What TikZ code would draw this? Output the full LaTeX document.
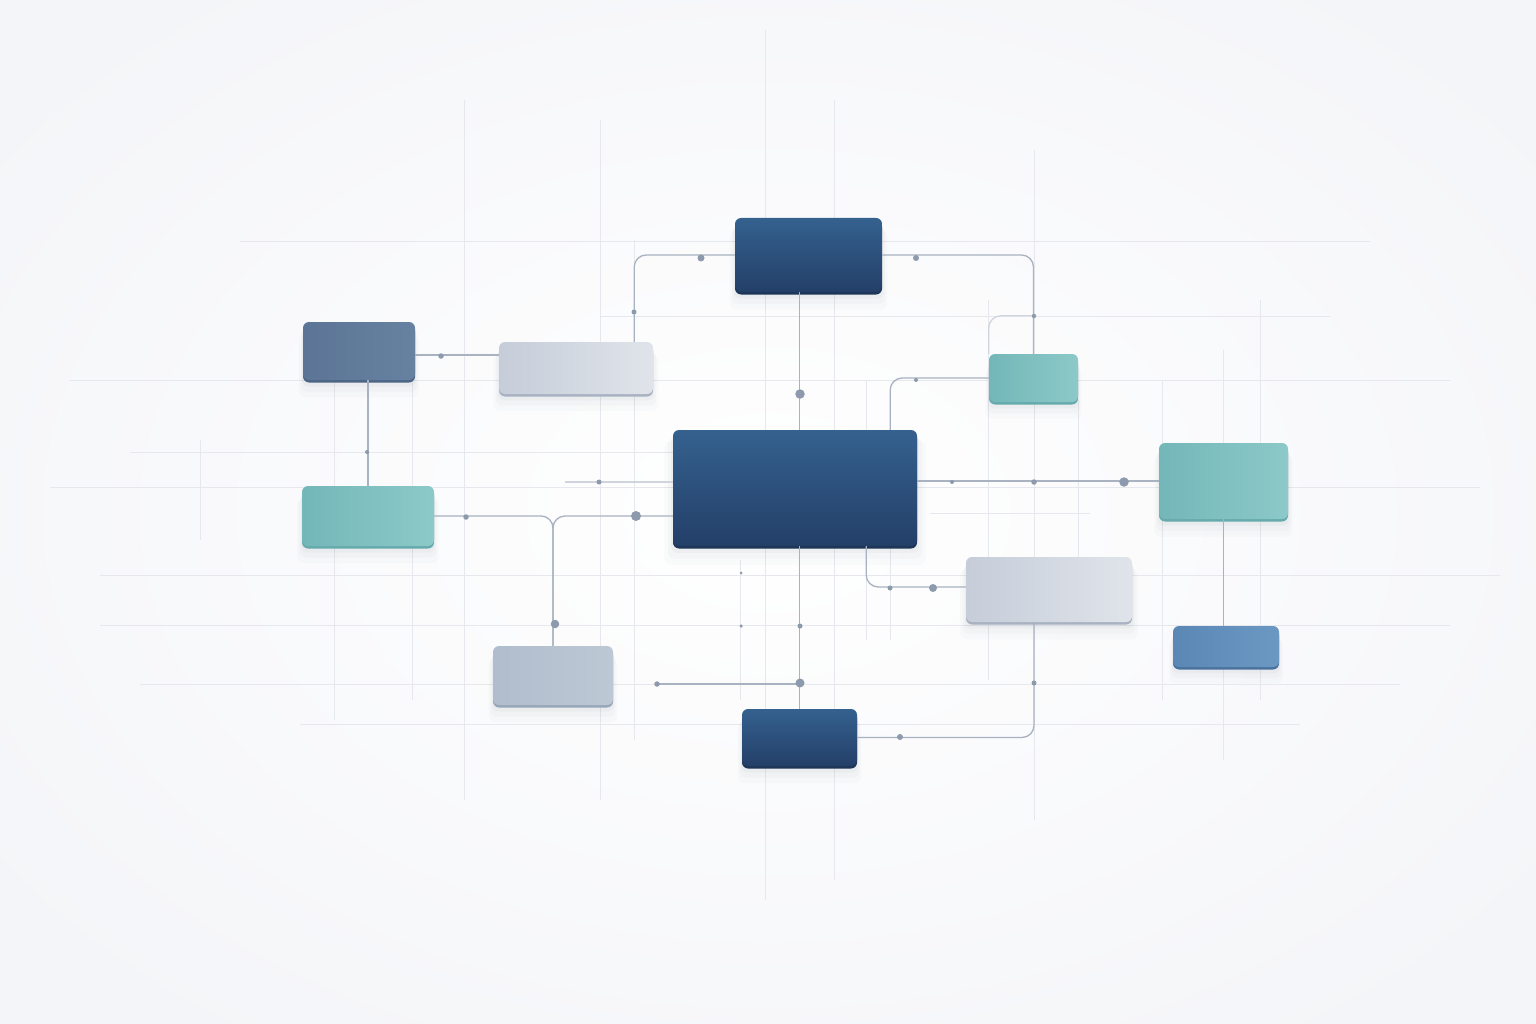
\documentclass[tikz,border=0pt]{standalone}
\usepackage{tikz}
\usetikzlibrary{positioning,shadows}

\definecolor{navytop}{HTML}{35618F}
\definecolor{navybot}{HTML}{233F68}
\definecolor{navyrim}{HTML}{1D3556}
\definecolor{slatetop}{HTML}{5C7596}
\definecolor{slatebot}{HTML}{6781A1}
\definecolor{slaterim}{HTML}{4D6585}
\definecolor{paletop}{HTML}{C6CDD9}
\definecolor{palebot}{HTML}{E0E4EA}
\definecolor{palerim}{HTML}{A8B2C1}
\definecolor{tealtop}{HTML}{74B7B9}
\definecolor{tealbot}{HTML}{8CC9C8}
\definecolor{tealrim}{HTML}{66AAAC}
\definecolor{greytop}{HTML}{B0BDCC}
\definecolor{greybot}{HTML}{BDC8D5}
\definecolor{greyrim}{HTML}{97A6B8}
\definecolor{bluetop}{HTML}{5B87B5}
\definecolor{bluebot}{HTML}{6B98C3}
\definecolor{bluerim}{HTML}{4A729E}
\definecolor{wirecol}{HTML}{A9B2C1}
\definecolor{dotcol}{HTML}{8D99AC}
\definecolor{gridcol}{HTML}{E6E8ED}
\definecolor{bgedge}{HTML}{F4F5F8}
\definecolor{shadowcol}{HTML}{2A3550}

\begin{document}
\begin{tikzpicture}[x=1pt,y=-1pt,
    block/.style={rectangle,rounded corners=6pt,inner sep=0pt,
      general shadow={fill=shadowcol,opacity=.018,shadow yshift=-14pt,shadow scale=1.07},
      general shadow={fill=shadowcol,opacity=.022,shadow yshift=-10pt,shadow scale=1.04},
      general shadow={fill=shadowcol,opacity=.03,shadow yshift=-6pt,shadow scale=1.015}},
    navybox/.style={block,top color=navytop,bottom color=navybot,
      general shadow={fill=navyrim,opacity=1,shadow yshift=-2.5pt}},
    slatebox/.style={block,left color=slatetop,right color=slatebot,
      general shadow={fill=slaterim,opacity=1,shadow yshift=-2.5pt}},
    palebox/.style={block,left color=paletop,right color=palebot,
      general shadow={fill=palerim,opacity=1,shadow yshift=-2.5pt}},
    tealbox/.style={block,left color=tealtop,right color=tealbot,
      general shadow={fill=tealrim,opacity=1,shadow yshift=-2.5pt}},
    greybox/.style={block,left color=greytop,right color=greybot,
      general shadow={fill=greyrim,opacity=1,shadow yshift=-2.5pt}},
    bluebox/.style={block,left color=bluetop,right color=bluebot,
      general shadow={fill=bluerim,opacity=1,shadow yshift=-2.5pt}},
    wire/.style={draw=wirecol,line width=1.3pt,rounded corners=12pt},
    faint wire/.style={wire,draw=wirecol!55},
    grid line/.style={draw=gridcol,line width=.8pt},
    dot/.style={circle,fill=dotcol,inner sep=0pt,minimum size=#1},
    dot/.default=5pt]

    \useasboundingbox (0,0) rectangle (1536,1024);
    \clip (0,0) rectangle (1536,1024);
    \shade[inner color=white,outer color=bgedge] (-200,-150) rectangle (1736,1174);

    \foreach \x/\a/\b in {200/440/540,334/380/720,412/380/700,464/100/800,600/120/800,
        634/240/740,740/560/700,765/30/900,834/100/880,866/380/640,890/540/640,
        988/300/680,1034/150/820,1078/400/620,1162/380/700,1223/350/760,1260/300/700}
      \draw[grid line] (\x,\a) -- (\x,\b);
    \foreach \y/\a/\b in {241/240/1370,316/600/1330,380/70/1450,452/130/700,487/50/1480,
        513/930/1090,575/100/1500,625/100/1450,684/140/1400,724/300/1300}
      \draw[grid line] (\a,\y) -- (\b,\y);

    \node[navybox,minimum width=244pt,minimum height=116pt] (hub) at (795,488) {};
    \node[navybox,minimum width=147pt,minimum height=74pt] (head) at (808.5,255) {};
    \node[navybox,minimum width=115pt,minimum height=57pt] (foot) at (799.5,737.5) {};
    \node[slatebox,minimum width=112pt,minimum height=58pt] (west1) at (359,351) {};
    \node[palebox,minimum width=154pt,minimum height=52pt] (west2) at (576,368) {};
    \node[tealbox,minimum width=132pt,minimum height=60pt] (west3) at (368,516) {};
    \node[greybox,minimum width=120pt,minimum height=59pt] (west4) at (553,675.5) {};
    \node[tealbox,minimum width=89pt,minimum height=48pt] (east1) at (1033.5,378) {};
    \node[tealbox,minimum width=129pt,minimum height=76pt] (east2) at (1223.5,481) {};
    \node[palebox,minimum width=166pt,minimum height=65pt] (east3) at (1049,589.5) {};
    \node[bluebox,minimum width=106pt,minimum height=41pt] (east4) at (1226,646.5) {};

    \coordinate (g1) at (565,482);
    \coordinate (g2) at (657,684);

    \draw[wire] (head.west) -| ([xshift=-19pt]west2.north east);
    \draw[wire] (head.east) -| (east1.north);
    \draw[faint wire] ([yshift=38pt]east1.north) -| (east1.north west);
    \draw[wire] (east1.west) -| ([xshift=-27pt]hub.north east);
    \draw[wire] (head.south -| foot.north) -- (hub.north -| foot.north);
    \draw[wire] (hub.south -| foot.north) -- (foot.north);
    \draw[wire] (foot.east) -| ([xshift=-15pt]east3.south);
    \draw[wire] ([xshift=-51pt]hub.south east) |- ([yshift=2.5pt]east3.west);
    \draw[wire] (hub.east |- east2.west) -- (east2.west);
    \draw[wire] (east2.south) -- (east2.south |- east4.north);
    \draw[wire] (west3.east) -| (west4.north);
    \draw[wire] (hub.west |- west3.east) -| (west4.north);
    \draw[wire] ([yshift=-4pt]west1.east) -- ([yshift=-4pt]west1.east -| west2.west);
    \draw[wire] (west1.south -| west3.north) -- (west3.north);
    \draw[faint wire] (g1) -- (g1 -| hub.west);
    \draw[wire] (g2) -- (g2 -| foot.north);

    \foreach \x/\y/\s [count=\i] in {441/356/5.5pt,634/312/5pt,701/258/7pt,916/258/6pt,
        1034/316/4.5pt,916/380/4pt,800/394/9.5pt,599/482/5pt,952/482/4pt,1034/482/5.5pt,
        1124/482/9.5pt,466/517/5.5pt,636/516/10pt,555/624/8.5pt,800/626/5pt,800/683/9pt,
        657/684/5.5pt,890/588/5pt,933/588/8pt,1034/683/5pt,900/737/6pt,367/452/4pt,
        741/626/3.5pt,741/573/3pt}
      \node[dot=\s] (d\i) at (\x,\y) {};
\end{tikzpicture}
\end{document}
